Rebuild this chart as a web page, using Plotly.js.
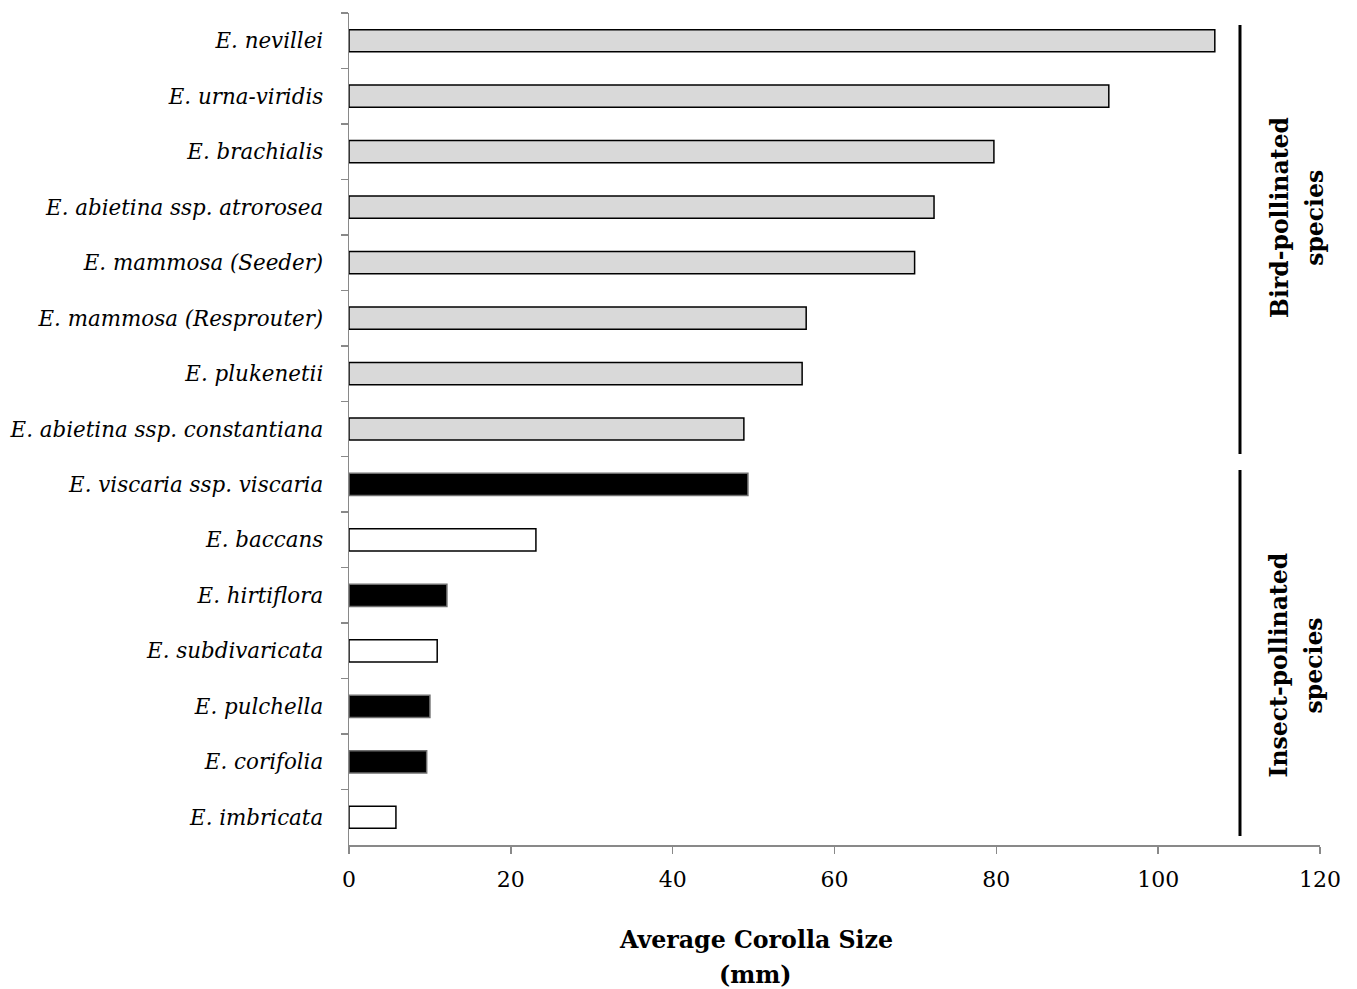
<!DOCTYPE html>
<html>
<head>
<meta charset="utf-8">
<script src="https://cdn.plot.ly/plotly-3.0.1.min.js"></script>
<style>html,body{margin:0;padding:0;background:#fff;}#chart{width:1357px;height:989px;}</style>
</head>
<body>
<div id="chart"></div>
<script>
var species = [
  "E. nevillei", "E. urna-viridis", "E. brachialis", "E. abietina ssp. atrorosea",
  "E. mammosa (Seeder)", "E. mammosa (Resprouter)", "E. plukenetii",
  "E. abietina ssp. constantiana", "E. viscaria ssp. viscaria", "E. baccans",
  "E. hirtiflora", "E. subdivaricata", "E. pulchella", "E. corifolia", "E. imbricata"
];
var corollaSize = [107.0, 93.9, 79.7, 72.3, 69.9, 56.5, 56.0, 48.8, 49.3, 23.1, 12.1, 10.9, 10.0, 9.6, 5.8];
var pollinator = ["bird","bird","bird","bird","bird","bird","bird","bird",
                  "insectDark","insectLight","insectDark","insectLight","insectDark","insectDark","insectLight"];
var xTicks = [0, 20, 40, 60, 80, 100, 120];

var fillMap = {bird: "#d9d9d9", insectDark: "#000000", insectLight: "#ffffff"};
var lineMap = {bird: "#000000", insectDark: "#6e6e6e", insectLight: "#000000"};

var trace = {
  type: "bar",
  orientation: "h",
  y: species,
  x: corollaSize,
  width: 0.4,
  marker: {
    color: pollinator.map(function(p){return fillMap[p];}),
    line: {color: pollinator.map(function(p){return lineMap[p];}), width: 1.5}
  },
  hoverinfo: "x+y"
};

var font = "DejaVu Serif, Liberation Serif, serif";

function txt(t, x, y, angle, size) {
  return {text: "<b>" + t + "</b>", xref: "paper", yref: "paper", x: x, y: y,
          xanchor: "center", yanchor: "middle", textangle: angle, showarrow: false,
          font: {family: font, size: size, color: "#000"}};
}

var layout = {
  width: 1357, height: 989,
  margin: {l: 349, r: 37, t: 13, b: 144, pad: 0},
  paper_bgcolor: "#fff", plot_bgcolor: "#fff",
  showlegend: false,
  font: {family: font, color: "#000"},
  xaxis: {
    range: [0, 120], tickvals: xTicks, ticktext: xTicks.map(String),
    showgrid: false, zeroline: false,
    showline: true, linecolor: "#898989", linewidth: 1.5,
    ticks: "outside", ticklen: 7, tickcolor: "#898989", tickwidth: 1.5,
    ticklabelstandoff: 7,
    tickfont: {family: font, size: 22, color: "#000"},
    fixedrange: true
  },
  yaxis: {
    type: "category", autorange: "reversed",
    tickson: "boundaries",
    showgrid: false, zeroline: false,
    showline: true, linecolor: "#898989", linewidth: 1.5,
    ticks: "outside", ticklen: 7, tickcolor: "#898989", tickwidth: 1.5,
    ticklabelstandoff: 20,
    tickfont: {family: "DejaVu Serif, serif", size: 21.4, color: "#000", style: "italic"},
    fixedrange: true
  },
  shapes: [
    {type: "line", xref: "paper", yref: "paper", x0: 0.9176, x1: 0.9176, y0: 0.9856, y1: 0.470,
     line: {color: "#000", width: 3}},
    {type: "line", xref: "paper", yref: "paper", x0: 0.9176, x1: 0.9176, y0: 0.4507, y1: 0.0108,
     line: {color: "#000", width: 3}}
  ],
  annotations: [
    txt("Bird-pollinated", 0.958, 0.754, -90, 23.5),
    txt("species", 0.994, 0.754, -90, 23.5),
    txt("Insect-pollinated", 0.958, 0.216, -90, 23.5),
    txt("species", 0.994, 0.216, -90, 23.5),
    txt("Average Corolla Size", 0.419, -0.114, 0, 23.7),
    txt("(mm)", 0.419, -0.156, 0, 23.7)
  ]
};

Plotly.newPlot("chart", [trace], layout, {displayModeBar: false, staticPlot: true});
</script>
</body>
</html>
